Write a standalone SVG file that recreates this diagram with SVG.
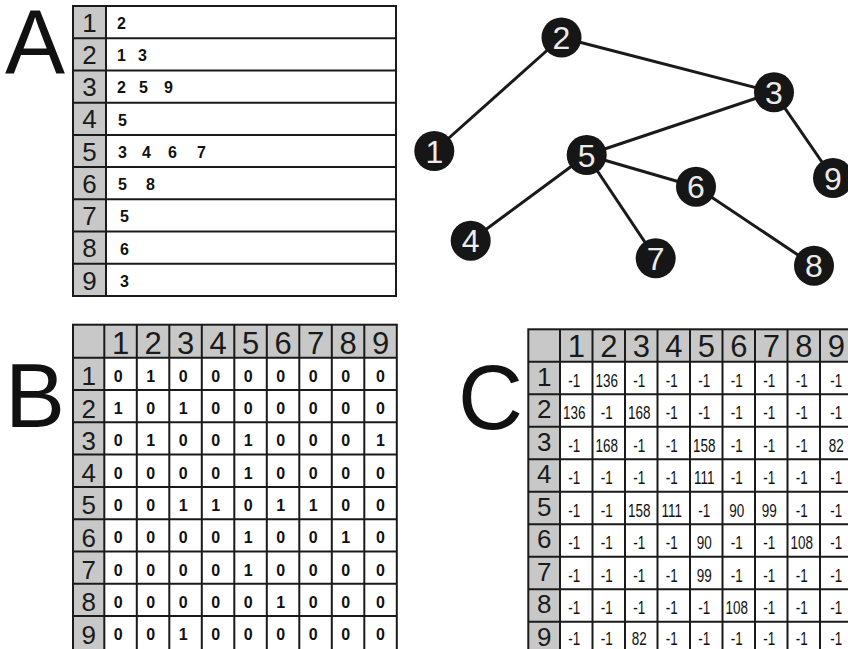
<svg xmlns="http://www.w3.org/2000/svg" width="848" height="649" viewBox="0 0 848 649">
<style>
.big{font-family:"Liberation Sans",Arial,sans-serif;font-size:90px;fill:#111}
.grid{stroke:#1a1a1a;stroke-width:2;fill:none}
.gray{fill:#c8c8c8}
.white{fill:#fff}
.lbl{font-family:"Liberation Sans",Arial,sans-serif;font-size:26px;fill:#1a1a1a;text-anchor:middle}
.hdr{font-family:"Liberation Sans",Arial,sans-serif;font-size:31px;fill:#1a1a1a;text-anchor:middle}
.ent{font-family:"Liberation Sans",Arial,sans-serif;font-size:16px;font-weight:bold;fill:#111}
.bv{font-family:"Liberation Sans",Arial,sans-serif;font-size:16px;font-weight:bold;fill:#111;text-anchor:middle}
.cv{font-family:"Liberation Sans",Arial,sans-serif;font-size:13.5px;fill:#111;text-anchor:middle}
.edge{stroke:#1a1a1a;stroke-width:3;fill:none}
.node circle{fill:#161616}
.node text{font-family:"Liberation Sans",Arial,sans-serif;font-size:32px;fill:#ececec;text-anchor:middle}
</style>
<rect width="848" height="649" fill="#fff"/>

<!-- Panel letters -->
<text class="big" x="5" y="73" font-size="88">A</text>
<text class="big" x="5" y="426.7" font-size="92">B</text>
<text class="big" x="458" y="428.5">C</text>

<!-- Panel A: adjacency list -->
<g id="panelA">
<rect x="73" y="6" width="323" height="290" class="white"/>
<rect x="73" y="6" width="33" height="290" class="gray"/>
<g class="grid">
<rect x="73" y="6" width="323" height="290"/>
<line x1="106" y1="6" x2="106" y2="296"/>
<line x1="73" y1="38.2" x2="396" y2="38.2"/>
<line x1="73" y1="70.4" x2="396" y2="70.4"/>
<line x1="73" y1="102.7" x2="396" y2="102.7"/>
<line x1="73" y1="134.9" x2="396" y2="134.9"/>
<line x1="73" y1="167.1" x2="396" y2="167.1"/>
<line x1="73" y1="199.3" x2="396" y2="199.3"/>
<line x1="73" y1="231.5" x2="396" y2="231.5"/>
<line x1="73" y1="263.8" x2="396" y2="263.8"/>
</g>
<text class="lbl" x="89.5" y="31.7">1</text>
<text class="lbl" x="89.5" y="63.9">2</text>
<text class="lbl" x="89.5" y="96.1">3</text>
<text class="lbl" x="89.5" y="128.4">4</text>
<text class="lbl" x="89.5" y="160.6">5</text>
<text class="lbl" x="89.5" y="192.8">6</text>
<text class="lbl" x="89.5" y="225">7</text>
<text class="lbl" x="89.5" y="257.2">8</text>
<text class="lbl" x="89.5" y="289.5">9</text>
<text class="ent" y="29"><tspan x="117">2</tspan></text>
<text class="ent" y="61.2"><tspan x="117">1</tspan> <tspan x="138">3</tspan></text>
<text class="ent" y="93.4"><tspan x="117">2</tspan> <tspan x="139">5</tspan> <tspan x="164">9</tspan></text>
<text class="ent" y="125.7"><tspan x="118">5</tspan></text>
<text class="ent" y="157.9"><tspan x="118">3</tspan> <tspan x="142">4</tspan> <tspan x="168">6</tspan> <tspan x="197">7</tspan></text>
<text class="ent" y="190.1"><tspan x="118">5</tspan> <tspan x="146">8</tspan></text>
<text class="ent" y="222.3"><tspan x="120">5</tspan></text>
<text class="ent" y="254.5"><tspan x="120">6</tspan></text>
<text class="ent" y="286.8"><tspan x="120">3</tspan></text>
</g>

<!-- Graph connectors -->
<g id="connectors">
<line class="edge" x1="434.3" y1="151" x2="561.5" y2="37.5"/>
<line class="edge" x1="561.5" y1="37.5" x2="774" y2="92.3"/>
<line class="edge" x1="774" y1="92.3" x2="586.7" y2="155"/>
<line class="edge" x1="774" y1="92.3" x2="833" y2="178"/>
<line class="edge" x1="586.7" y1="155" x2="470.7" y2="240.7"/>
<line class="edge" x1="586.7" y1="155" x2="696" y2="186.7"/>
<line class="edge" x1="586.7" y1="155" x2="655.7" y2="258.3"/>
<line class="edge" x1="696" y1="186.7" x2="814" y2="265.7"/>
</g>

<!-- Graph nodes -->
<g id="node1" class="node"><circle cx="434.3" cy="151" r="20"/><text x="434.3" y="162.5">1</text></g>
<g id="node2" class="node"><circle cx="561.5" cy="37.5" r="20"/><text x="561.5" y="49">2</text></g>
<g id="node3" class="node"><circle cx="774" cy="92.3" r="20"/><text x="774" y="103.8">3</text></g>
<g id="node4" class="node"><circle cx="470.7" cy="240.7" r="20"/><text x="470.7" y="252.2">4</text></g>
<g id="node5" class="node"><circle cx="586.7" cy="155" r="20"/><text x="586.7" y="166.5">5</text></g>
<g id="node6" class="node"><circle cx="696" cy="186.7" r="20"/><text x="696" y="198.2">6</text></g>
<g id="node7" class="node"><circle cx="655.7" cy="258.3" r="20"/><text x="655.7" y="269.8">7</text></g>
<g id="node8" class="node"><circle cx="814" cy="265.7" r="20"/><text x="814" y="277.2">8</text></g>
<g id="node9" class="node"><circle cx="833" cy="178" r="20"/><text x="833" y="189.5">9</text></g>

<!-- Panel B: adjacency matrix -->
<g id="panelB">
<rect x="73" y="324.7" width="323.8" height="330" class="white"/>
<rect x="73" y="324.7" width="323.8" height="33" class="gray"/>
<rect x="73" y="324.7" width="31.3" height="330" class="gray"/>
<g class="grid">
<rect x="73" y="324.7" width="323.8" height="330"/>
<line x1="104.3" y1="324.7" x2="104.3" y2="655"/>
<line x1="136.8" y1="324.7" x2="136.8" y2="655"/>
<line x1="169.3" y1="324.7" x2="169.3" y2="655"/>
<line x1="201.8" y1="324.7" x2="201.8" y2="655"/>
<line x1="234.3" y1="324.7" x2="234.3" y2="655"/>
<line x1="266.8" y1="324.7" x2="266.8" y2="655"/>
<line x1="299.3" y1="324.7" x2="299.3" y2="655"/>
<line x1="331.8" y1="324.7" x2="331.8" y2="655"/>
<line x1="364.3" y1="324.7" x2="364.3" y2="655"/>
<line x1="73" y1="357.7" x2="396.8" y2="357.7"/>
<line x1="73" y1="390" x2="396.8" y2="390"/>
<line x1="73" y1="422.3" x2="396.8" y2="422.3"/>
<line x1="73" y1="454.6" x2="396.8" y2="454.6"/>
<line x1="73" y1="486.9" x2="396.8" y2="486.9"/>
<line x1="73" y1="519.2" x2="396.8" y2="519.2"/>
<line x1="73" y1="551.5" x2="396.8" y2="551.5"/>
<line x1="73" y1="583.8" x2="396.8" y2="583.8"/>
<line x1="73" y1="616.1" x2="396.8" y2="616.1"/>
</g>
<g class="hdr">
<text x="120.55" y="353.5">1</text><text x="153.05" y="353.5">2</text><text x="185.55" y="353.5">3</text><text x="218.05" y="353.5">4</text><text x="250.55" y="353.5">5</text><text x="283.05" y="353.5">6</text><text x="315.55" y="353.5">7</text><text x="348.05" y="353.5">8</text><text x="380.55" y="353.5">9</text>
</g>
<g class="lbl">
<text x="88.7" y="385.2">1</text><text x="88.7" y="417.5">2</text><text x="88.7" y="449.8">3</text><text x="88.7" y="482.1">4</text><text x="88.7" y="514.4">5</text><text x="88.7" y="546.7">6</text><text x="88.7" y="579">7</text><text x="88.7" y="611.3">8</text><text x="88.7" y="643.6">9</text>
</g>
<g class="bv">
<text y="381.7"><tspan x="120.55">0</tspan> <tspan x="153.05">1</tspan> <tspan x="185.55">0</tspan> <tspan x="218.05">0</tspan> <tspan x="250.55">0</tspan> <tspan x="283.05">0</tspan> <tspan x="315.55">0</tspan> <tspan x="348.05">0</tspan> <tspan x="380.55">0</tspan></text>
<text y="414"><tspan x="120.55">1</tspan> <tspan x="153.05">0</tspan> <tspan x="185.55">1</tspan> <tspan x="218.05">0</tspan> <tspan x="250.55">0</tspan> <tspan x="283.05">0</tspan> <tspan x="315.55">0</tspan> <tspan x="348.05">0</tspan> <tspan x="380.55">0</tspan></text>
<text y="446.3"><tspan x="120.55">0</tspan> <tspan x="153.05">1</tspan> <tspan x="185.55">0</tspan> <tspan x="218.05">0</tspan> <tspan x="250.55">1</tspan> <tspan x="283.05">0</tspan> <tspan x="315.55">0</tspan> <tspan x="348.05">0</tspan> <tspan x="380.55">1</tspan></text>
<text y="478.6"><tspan x="120.55">0</tspan> <tspan x="153.05">0</tspan> <tspan x="185.55">0</tspan> <tspan x="218.05">0</tspan> <tspan x="250.55">1</tspan> <tspan x="283.05">0</tspan> <tspan x="315.55">0</tspan> <tspan x="348.05">0</tspan> <tspan x="380.55">0</tspan></text>
<text y="510.9"><tspan x="120.55">0</tspan> <tspan x="153.05">0</tspan> <tspan x="185.55">1</tspan> <tspan x="218.05">1</tspan> <tspan x="250.55">0</tspan> <tspan x="283.05">1</tspan> <tspan x="315.55">1</tspan> <tspan x="348.05">0</tspan> <tspan x="380.55">0</tspan></text>
<text y="543.2"><tspan x="120.55">0</tspan> <tspan x="153.05">0</tspan> <tspan x="185.55">0</tspan> <tspan x="218.05">0</tspan> <tspan x="250.55">1</tspan> <tspan x="283.05">0</tspan> <tspan x="315.55">0</tspan> <tspan x="348.05">1</tspan> <tspan x="380.55">0</tspan></text>
<text y="575.5"><tspan x="120.55">0</tspan> <tspan x="153.05">0</tspan> <tspan x="185.55">0</tspan> <tspan x="218.05">0</tspan> <tspan x="250.55">1</tspan> <tspan x="283.05">0</tspan> <tspan x="315.55">0</tspan> <tspan x="348.05">0</tspan> <tspan x="380.55">0</tspan></text>
<text y="607.8"><tspan x="120.55">0</tspan> <tspan x="153.05">0</tspan> <tspan x="185.55">0</tspan> <tspan x="218.05">0</tspan> <tspan x="250.55">0</tspan> <tspan x="283.05">1</tspan> <tspan x="315.55">0</tspan> <tspan x="348.05">0</tspan> <tspan x="380.55">0</tspan></text>
<text y="640.1"><tspan x="120.55">0</tspan> <tspan x="153.05">0</tspan> <tspan x="185.55">1</tspan> <tspan x="218.05">0</tspan> <tspan x="250.55">0</tspan> <tspan x="283.05">0</tspan> <tspan x="315.55">0</tspan> <tspan x="348.05">0</tspan> <tspan x="380.55">0</tspan></text>
</g>
</g>

<!-- Panel C: weight matrix -->
<g id="panelC">
<rect x="528.3" y="329.3" width="330" height="330" class="white"/>
<rect x="528.3" y="329.3" width="330" height="32.4" class="gray"/>
<rect x="528.3" y="329.3" width="31.7" height="330" class="gray"/>
<g class="grid">
<rect x="528.3" y="329.3" width="330" height="330"/>
<line x1="560" y1="329.3" x2="560" y2="660"/>
<line x1="592.5" y1="329.3" x2="592.5" y2="660"/>
<line x1="625" y1="329.3" x2="625" y2="660"/>
<line x1="657.5" y1="329.3" x2="657.5" y2="660"/>
<line x1="690" y1="329.3" x2="690" y2="660"/>
<line x1="722.5" y1="329.3" x2="722.5" y2="660"/>
<line x1="755" y1="329.3" x2="755" y2="660"/>
<line x1="787.5" y1="329.3" x2="787.5" y2="660"/>
<line x1="820" y1="329.3" x2="820" y2="660"/>
<line x1="528.3" y1="361.7" x2="860" y2="361.7"/>
<line x1="528.3" y1="394.2" x2="860" y2="394.2"/>
<line x1="528.3" y1="426.7" x2="860" y2="426.7"/>
<line x1="528.3" y1="459.2" x2="860" y2="459.2"/>
<line x1="528.3" y1="491.7" x2="860" y2="491.7"/>
<line x1="528.3" y1="524.2" x2="860" y2="524.2"/>
<line x1="528.3" y1="556.7" x2="860" y2="556.7"/>
<line x1="528.3" y1="589.2" x2="860" y2="589.2"/>
<line x1="528.3" y1="621.7" x2="860" y2="621.7"/>
</g>
<g class="hdr">
<text x="576.25" y="357">1</text><text x="608.75" y="357">2</text><text x="641.25" y="357">3</text><text x="673.75" y="357">4</text><text x="706.25" y="357">5</text><text x="738.75" y="357">6</text><text x="771.25" y="357">7</text><text x="803.75" y="357">8</text><text x="836.25" y="357">9</text>
</g>
<g class="lbl">
<text x="544.2" y="385.7">1</text><text x="544.2" y="418.2">2</text><text x="544.2" y="450.7">3</text><text x="544.2" y="483.2">4</text><text x="544.2" y="515.7">5</text><text x="544.2" y="548.2">6</text><text x="544.2" y="580.7">7</text><text x="544.2" y="613.2">8</text><text x="544.2" y="645.7">9</text>
</g>
<g class="cv">
<text transform="translate(0,386.7) scale(1,1.3)"><tspan x="576.25">-1</tspan> <tspan x="608.75">136</tspan> <tspan x="641.25">-1</tspan> <tspan x="673.75">-1</tspan> <tspan x="706.25">-1</tspan> <tspan x="738.75">-1</tspan> <tspan x="771.25">-1</tspan> <tspan x="803.75">-1</tspan> <tspan x="836.25">-1</tspan></text>
<text transform="translate(0,419.2) scale(1,1.3)"><tspan x="576.25">136</tspan> <tspan x="608.75">-1</tspan> <tspan x="641.25">168</tspan> <tspan x="673.75">-1</tspan> <tspan x="706.25">-1</tspan> <tspan x="738.75">-1</tspan> <tspan x="771.25">-1</tspan> <tspan x="803.75">-1</tspan> <tspan x="836.25">-1</tspan></text>
<text transform="translate(0,451.7) scale(1,1.3)"><tspan x="576.25">-1</tspan> <tspan x="608.75">168</tspan> <tspan x="641.25">-1</tspan> <tspan x="673.75">-1</tspan> <tspan x="706.25">158</tspan> <tspan x="738.75">-1</tspan> <tspan x="771.25">-1</tspan> <tspan x="803.75">-1</tspan> <tspan x="836.25">82</tspan></text>
<text transform="translate(0,484.2) scale(1,1.3)"><tspan x="576.25">-1</tspan> <tspan x="608.75">-1</tspan> <tspan x="641.25">-1</tspan> <tspan x="673.75">-1</tspan> <tspan x="706.25">111</tspan> <tspan x="738.75">-1</tspan> <tspan x="771.25">-1</tspan> <tspan x="803.75">-1</tspan> <tspan x="836.25">-1</tspan></text>
<text transform="translate(0,516.7) scale(1,1.3)"><tspan x="576.25">-1</tspan> <tspan x="608.75">-1</tspan> <tspan x="641.25">158</tspan> <tspan x="673.75">111</tspan> <tspan x="706.25">-1</tspan> <tspan x="738.75">90</tspan> <tspan x="771.25">99</tspan> <tspan x="803.75">-1</tspan> <tspan x="836.25">-1</tspan></text>
<text transform="translate(0,549.2) scale(1,1.3)"><tspan x="576.25">-1</tspan> <tspan x="608.75">-1</tspan> <tspan x="641.25">-1</tspan> <tspan x="673.75">-1</tspan> <tspan x="706.25">90</tspan> <tspan x="738.75">-1</tspan> <tspan x="771.25">-1</tspan> <tspan x="803.75">108</tspan> <tspan x="836.25">-1</tspan></text>
<text transform="translate(0,581.7) scale(1,1.3)"><tspan x="576.25">-1</tspan> <tspan x="608.75">-1</tspan> <tspan x="641.25">-1</tspan> <tspan x="673.75">-1</tspan> <tspan x="706.25">99</tspan> <tspan x="738.75">-1</tspan> <tspan x="771.25">-1</tspan> <tspan x="803.75">-1</tspan> <tspan x="836.25">-1</tspan></text>
<text transform="translate(0,614.2) scale(1,1.3)"><tspan x="576.25">-1</tspan> <tspan x="608.75">-1</tspan> <tspan x="641.25">-1</tspan> <tspan x="673.75">-1</tspan> <tspan x="706.25">-1</tspan> <tspan x="738.75">108</tspan> <tspan x="771.25">-1</tspan> <tspan x="803.75">-1</tspan> <tspan x="836.25">-1</tspan></text>
<text transform="translate(0,645.2) scale(1,1.3)"><tspan x="576.25">-1</tspan> <tspan x="608.75">-1</tspan> <tspan x="641.25">82</tspan> <tspan x="673.75">-1</tspan> <tspan x="706.25">-1</tspan> <tspan x="738.75">-1</tspan> <tspan x="771.25">-1</tspan> <tspan x="803.75">-1</tspan> <tspan x="836.25">-1</tspan></text>
</g>
</g>
</svg>
